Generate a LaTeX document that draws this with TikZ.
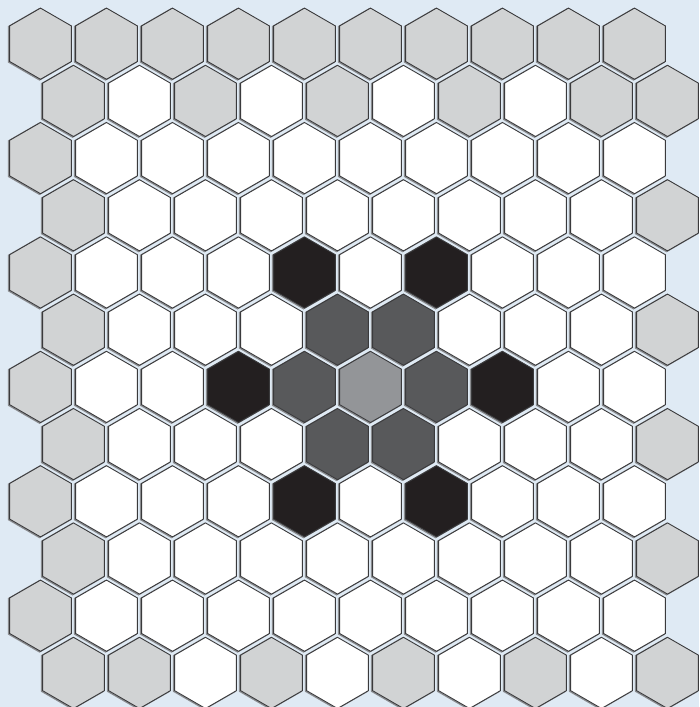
\documentclass[tikz,border=0pt]{standalone}
\usepackage{tikz}

\definecolor{bgblue}{HTML}{DFEAF4}
\definecolor{hexg}{HTML}{D1D3D4}
\definecolor{hexw}{HTML}{FFFFFF}
\definecolor{hexk}{HTML}{231F20}
\definecolor{hexd}{HTML}{58595B}
\definecolor{hexm}{HTML}{939598}
\definecolor{hexline}{HTML}{3A3A3C}
\definecolor{hexshade}{HTML}{8A8C8F}

\begin{document}
\begin{tikzpicture}[x=1pt, y=-1pt,
    hexcell/.style={draw=hexline, line width=0.9pt, line join=miter},
    hexshadow/.style={draw=hexshade, line width=1.4pt}]
    % Fondo
    \fill[bgblue] (0,0) rectangle (699,707);
    \useasboundingbox (0,0) rectangle (699,707);

    % Celdas: g gris, w blanco, k negro, d gris oscuro, m gris medio
    \foreach \row/\cols in {
        0/{g,g,g,g,g,g,g,g,g,g},
        1/{g,w,g,w,g,w,g,w,g,g},
        2/{g,w,w,w,w,w,w,w,w,w},
        3/{g,w,w,w,w,w,w,w,w,g},
        4/{g,w,w,w,k,w,k,w,w,w},
        5/{g,w,w,w,d,d,w,w,w,g},
        6/{g,w,w,k,d,m,d,k,w,w},
        7/{g,w,w,w,d,d,w,w,w,g},
        8/{g,w,w,w,k,w,k,w,w,w},
        9/{g,w,w,w,w,w,w,w,w,g},
        10/{g,w,w,w,w,w,w,w,w,w},
        11/{g,g,w,g,w,g,w,g,w,g}}{
      \pgfmathsetmacro{\shift}{mod(\row,2)*33}
      \foreach \c [count=\i from 0] in \cols {
        \pgfmathsetmacro{\hx}{40.5+66*\i+\shift}
        \pgfmathsetmacro{\hy}{43.7+57.2*\row}
        \draw[hexshadow] (\hx-1,\hy+0.6) +(90:35.6) -- +(150:35.6) -- +(210:35.6)
          -- +(270:35.6) -- +(330:35.6) -- +(30:35.6) -- cycle;
        \filldraw[hexcell, fill=hex\c] (\hx,\hy) +(90:35.6) -- +(150:35.6) -- +(210:35.6)
          -- +(270:35.6) -- +(330:35.6) -- +(30:35.6) -- cycle;
      }
    }
\end{tikzpicture}
\end{document}
